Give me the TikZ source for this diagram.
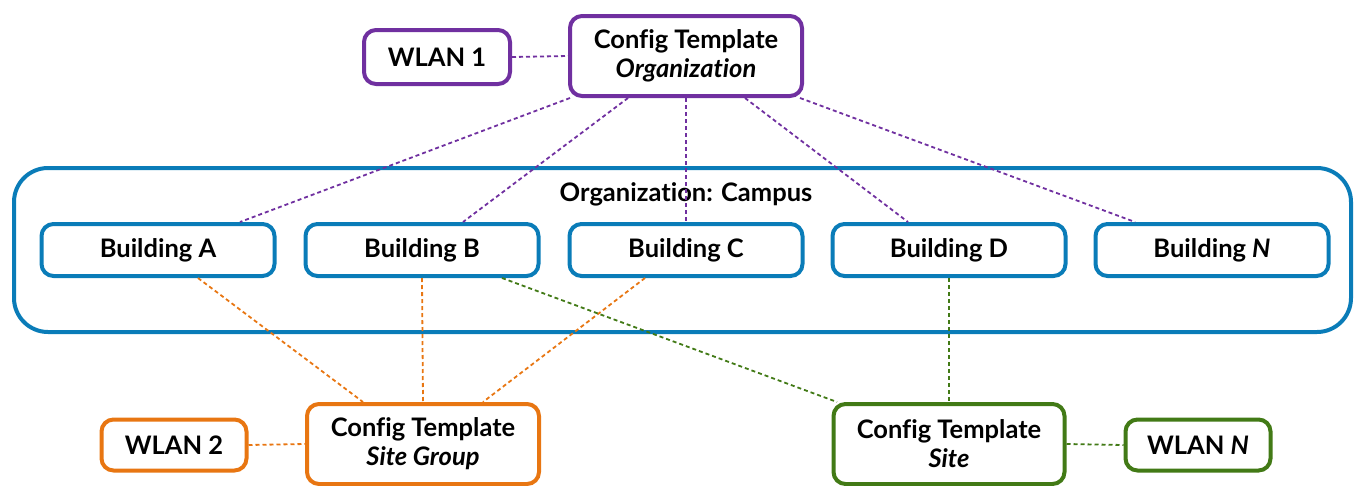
\documentclass[tikz,border=0pt]{standalone}
\usepackage{fontspec}
\setmainfont{Lato}[Ligatures=CommonOff,BoldFont={Lato Bold},BoldItalicFont={Lato Bold Italic},ItalicFont={Lato Italic}]
\begin{document}
\begin{tikzpicture}[x=1pt,y=-1pt,
  every node/.style={font=\fontsize{25.5}{29}\selectfont\bfseries, align=center, inner sep=0pt},
  box/.style={draw, line width=4pt, rounded corners=12pt, fill=white},
  conn/.style={line width=1.8pt, dash pattern=on 4pt off 3pt}]
\definecolor{cpurple}{RGB}{112,48,160}
\definecolor{cblue}{RGB}{10,124,184}
\definecolor{corange}{RGB}{232,118,18}
\definecolor{cgreen}{RGB}{66,122,22}
\useasboundingbox (0,0) rectangle (1355,485);
% campus
\node[draw=cblue, line width=4pt, rounded corners=34pt, minimum width=1337pt, minimum height=164pt] (campus) at (682.5,250) {};
\node (clabel) at (686,194) {Organization: Campus};
% top
\node[box, draw=cpurple, minimum width=146pt, minimum height=54pt] (w1) at (437,57) {WLAN 1};
\node[box, draw=cpurple, minimum width=232pt, minimum height=80pt] (org) at (686,56) {Config Template\\\textit{Organization}};
% buildings
\foreach \n/\x/\t in {bA/158/Building A, bB/422/Building B, bC/686/Building C, bD/949/Building D, bN/1212/Building \textit{N}}{
  \node[box, draw=cblue, minimum width=233pt, minimum height=52pt] (\n) at (\x,250) {\t};
}
% bottom
\node[box, draw=corange, minimum width=145pt, minimum height=51pt] (w2) at (174,445) {WLAN 2};
\node[box, draw=corange, minimum width=232pt, minimum height=80pt] (sg) at (423,444) {Config Template\\\textit{Site Group}};
\node[box, draw=cgreen, minimum width=231pt, minimum height=80pt] (site) at (949,444) {Config Template\\\textit{Site}};
\node[box, draw=cgreen, minimum width=145pt, minimum height=51pt] (wn) at (1198,445) {WLAN \textit{N}};
% purple connectors
\begin{scope}[conn, draw=cpurple]
\draw (w1.east) -- (org.west);
\draw ([xshift=-116pt]org.south) -- ([xshift=82pt]bA.north);
\draw ([xshift=-58pt]org.south) -- ([xshift=41pt]bB.north);
\draw (org.south) -- (bC.north);
\draw ([xshift=59pt]org.south) -- ([xshift=-41pt]bD.north);
\draw ([xshift=114pt]org.south) -- ([xshift=-77pt]bN.north);
\end{scope}
% orange connectors
\begin{scope}[conn, draw=corange]
\draw ([xshift=40pt]bA.south) -- ([xshift=-60pt]sg.north);
\draw (bB.south) -- (sg.north);
\draw ([xshift=-41pt]bC.south) -- ([xshift=60pt]sg.north);
\draw (w2.east) -- (sg.west);
\end{scope}
% green connectors
\begin{scope}[conn, draw=cgreen]
\draw ([xshift=80pt]bB.south) -- ([xshift=-112pt]site.north);
\draw (bD.south) -- (site.north);
\draw (site.east) -- (wn.west);
\end{scope}
\end{tikzpicture}
\end{document}
